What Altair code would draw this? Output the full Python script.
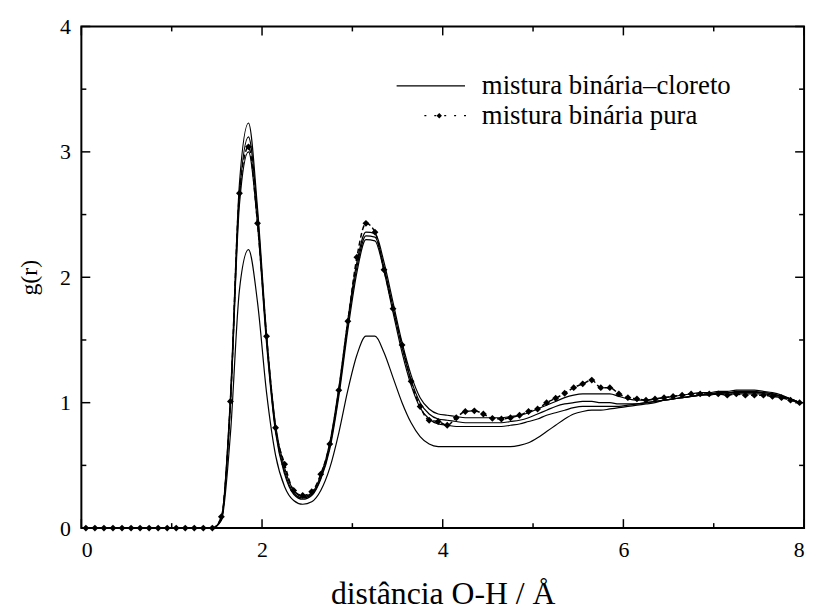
import altair as alt
import pandas as pd

# sampling grid (Å)
R = [0.05, 0.15, 0.25, 0.35, 0.45, 0.55, 0.65, 0.75, 0.85, 0.95,
     1.05, 1.15, 1.25, 1.35, 1.45, 1.55, 1.65, 1.75, 1.85, 1.95,
     2.05, 2.15, 2.25, 2.35, 2.45, 2.55, 2.65, 2.75, 2.85, 2.95,
     3.05, 3.15, 3.25, 3.35, 3.45, 3.55, 3.65, 3.75, 3.85, 3.95,
     4.05, 4.15, 4.25, 4.35, 4.45, 4.55, 4.65, 4.75, 4.85, 4.95,
     5.05, 5.15, 5.25, 5.35, 5.45, 5.55, 5.65, 5.75, 5.85, 5.95,
     6.05, 6.15, 6.25, 6.35, 6.45, 6.55, 6.65, 6.75, 6.85, 6.95,
     7.05, 7.15, 7.25, 7.35, 7.45, 7.55, 7.65, 7.75, 7.85, 7.95]

ZERO15 = [0.0] * 15

# mistura binária pura (markers)
PURA = ZERO15 + [0.09, 1.01, 2.67, 3.04, 2.43,
     1.53, 0.80, 0.51, 0.30, 0.26, 0.29, 0.43, 0.67, 1.10, 1.65,
     2.16, 2.43, 2.36, 2.06, 1.75, 1.46, 1.17, 0.97, 0.86, 0.85,
     0.82, 0.88, 0.93, 0.935, 0.91, 0.875, 0.87, 0.88, 0.90, 0.93,
     0.95, 1.00, 1.035, 1.075, 1.12, 1.15, 1.18, 1.12, 1.12, 1.07,
     1.04, 1.03, 1.02, 1.03, 1.04, 1.05, 1.06, 1.07, 1.07, 1.07,
     1.07, 1.06, 1.07, 1.06, 1.06, 1.06, 1.05, 1.04, 1.02, 1.00]

# mistura binária–cloreto (several curves)
CL_1 = ZERO15 + [0.08, 1.05, 2.75, 3.23, 2.55,
     1.55, 0.82, 0.48, 0.30, 0.25, 0.28, 0.42, 0.68, 1.12, 1.66,
     2.12, 2.36, 2.35, 2.12, 1.80, 1.48, 1.22, 1.04, 0.95, 0.91,
     0.90, 0.89, 0.88, 0.88, 0.88, 0.88, 0.88, 0.89, 0.90, 0.92,
     0.95, 0.98, 1.01, 1.04, 1.06, 1.07, 1.07, 1.07, 1.07, 1.05,
     1.03, 1.02, 1.02, 1.03, 1.04, 1.05, 1.06, 1.07, 1.08, 1.08,
     1.09, 1.09, 1.10, 1.10, 1.10, 1.09, 1.08, 1.06, 1.03, 1.00]

CL_2 = ZERO15 + [0.07, 1.00, 2.65, 3.12, 2.50,
     1.50, 0.78, 0.45, 0.28, 0.24, 0.27, 0.40, 0.65, 1.08, 1.62,
     2.08, 2.33, 2.32, 2.08, 1.76, 1.44, 1.18, 1.00, 0.91, 0.87,
     0.86, 0.85, 0.84, 0.84, 0.84, 0.84, 0.84, 0.85, 0.86, 0.88,
     0.91, 0.94, 0.97, 0.99, 1.00, 1.01, 1.01, 1.00, 1.00, 0.99,
     0.99, 0.99, 1.00, 1.01, 1.02, 1.03, 1.04, 1.05, 1.06, 1.07,
     1.07, 1.08, 1.08, 1.08, 1.08, 1.08, 1.07, 1.05, 1.03, 1.00]

CL_3 = ZERO15 + [0.07, 0.98, 2.58, 3.00, 2.42,
     1.47, 0.76, 0.43, 0.27, 0.23, 0.26, 0.39, 0.63, 1.05, 1.58,
     2.04, 2.30, 2.29, 2.05, 1.72, 1.40, 1.14, 0.96, 0.87, 0.83,
     0.82, 0.81, 0.81, 0.81, 0.81, 0.81, 0.81, 0.82, 0.83, 0.85,
     0.87, 0.90, 0.92, 0.94, 0.96, 0.97, 0.97, 0.97, 0.97, 0.97,
     0.98, 0.99, 1.00, 1.01, 1.02, 1.03, 1.04, 1.05, 1.06, 1.06,
     1.07, 1.07, 1.07, 1.07, 1.07, 1.07, 1.06, 1.05, 1.03, 1.00]

CL_4 = ZERO15 + [0.06, 0.75, 1.90, 2.22, 1.80,
     1.08, 0.58, 0.33, 0.22, 0.19, 0.21, 0.30, 0.48, 0.76, 1.10,
     1.38, 1.53, 1.53, 1.40, 1.20, 1.00, 0.84, 0.73, 0.67, 0.65,
     0.65, 0.65, 0.65, 0.65, 0.65, 0.65, 0.65, 0.65, 0.66, 0.68,
     0.72, 0.77, 0.82, 0.87, 0.91, 0.93, 0.94, 0.94, 0.95, 0.96,
     0.97, 0.98, 0.99, 1.00, 1.02, 1.03, 1.04, 1.05, 1.06, 1.07,
     1.08, 1.08, 1.09, 1.09, 1.09, 1.08, 1.07, 1.05, 1.03, 1.00]

X_MAJOR = [0, 2, 4, 6, 8]
X_MINOR = [1, 3, 5, 7]
Y_MAJOR = [0, 1, 2, 3, 4]
Y_MINOR = [0.5, 1.5, 2.5, 3.5]

LEG_LINE = "mistura binária–cloreto"
LEG_MARK = "mistura binária pura"

W, H = 729, 506
FONT = "Liberation Serif"

rows = []
for name, vals in [("c1", CL_1), ("c2", CL_2), ("c3", CL_3), ("c4", CL_4)]:
    for r, g in zip(R, vals):
        rows.append({"r": r, "g": g, "curve": name})
solid_df = pd.DataFrame(rows)
pura_df = pd.DataFrame({"r": R, "g": PURA})

xs = alt.Scale(domain=[0, 8], nice=False, zero=False)
ys = alt.Scale(domain=[0, 4], nice=False, zero=False)

xaxis = alt.Axis(values=X_MAJOR, format="d", title="distância O-H / Å", grid=False,
                 domain=False, ticks=False, labelPadding=12, labelFontSize=22,
                 titleFontSize=32, labelFont=FONT, titleFont=FONT,
                 titleFontWeight="normal", labelColor="black", titleColor="black",
                 titlePadding=18)
yaxis = alt.Axis(values=Y_MAJOR, format="d", title="g(r)", grid=False, domain=False,
                 ticks=False, labelPadding=11, labelFontSize=22, titleFontSize=24,
                 labelFont=FONT, titleFont=FONT, titleFontWeight="normal",
                 labelColor="black", titleColor="black", titlePadding=18)

solid = alt.Chart(solid_df).mark_line(color="black", strokeWidth=1.2, interpolate="monotone").encode(
    x=alt.X("r:Q", scale=xs, axis=xaxis),
    y=alt.Y("g:Q", scale=ys, axis=yaxis),
    detail="curve:N",
)

pura_line = alt.Chart(pura_df).mark_line(color="black", strokeWidth=1.5, strokeDash=[5, 3],
                                         interpolate="monotone").encode(
    x=alt.X("r:Q", scale=xs), y=alt.Y("g:Q", scale=ys))
pura_pts = alt.Chart(pura_df).mark_point(shape="diamond", filled=True, color="black",
                                         size=48, opacity=1).encode(
    x=alt.X("r:Q", scale=xs), y=alt.Y("g:Q", scale=ys))

# inward ticks
xmaj = pd.DataFrame({"v": X_MAJOR})
xmin = pd.DataFrame({"v": X_MINOR})
ymaj = pd.DataFrame({"v": Y_MAJOR})
ymin = pd.DataFrame({"v": Y_MINOR})

def xticks(df, L):
    b = alt.Chart(df).mark_rule(color="black", strokeWidth=1.5).encode(
        x=alt.X("v:Q", scale=xs), y=alt.value(H), y2=alt.value(H - L))
    t = alt.Chart(df).mark_rule(color="black", strokeWidth=1.5).encode(
        x=alt.X("v:Q", scale=xs), y=alt.value(0), y2=alt.value(L))
    return b + t

def yticks(df, L):
    l = alt.Chart(df).mark_rule(color="black", strokeWidth=1.5).encode(
        y=alt.Y("v:Q", scale=ys), x=alt.value(0), x2=alt.value(L))
    r = alt.Chart(df).mark_rule(color="black", strokeWidth=1.5).encode(
        y=alt.Y("v:Q", scale=ys), x=alt.value(W), x2=alt.value(W - L))
    return l + r

ticks = xticks(xmaj, 9) + xticks(xmin, 5) + yticks(ymaj, 9) + yticks(ymin, 5)

# legend (inside plot, top right)
leg_df = pd.DataFrame({"label": [LEG_LINE, LEG_MARK]})
L1Y, L2Y = 60, 90
leg_line = alt.Chart(leg_df.iloc[[0]]).mark_rule(color="black", strokeWidth=1.2).encode(
    x=alt.value(318), x2=alt.value(387), y=alt.value(L1Y))
leg_dash = alt.Chart(leg_df.iloc[[1]]).mark_rule(color="black", strokeWidth=1.3,
                                                strokeDash=[2, 8]).encode(
    x=alt.value(346), x2=alt.value(390), y=alt.value(L2Y))
leg_pt = alt.Chart(leg_df.iloc[[1]]).mark_point(shape="diamond", filled=True, color="black",
                                               size=30, opacity=1).encode(
    x=alt.value(361), y=alt.value(L2Y))
leg_t1 = alt.Chart(leg_df.iloc[[0]]).mark_text(align="left", baseline="middle", font=FONT,
                                              fontSize=27, color="black").encode(
    x=alt.value(404), y=alt.value(L1Y), text="label:N")
leg_t2 = alt.Chart(leg_df.iloc[[1]]).mark_text(align="left", baseline="middle", font=FONT,
                                              fontSize=27, color="black").encode(
    x=alt.value(404), y=alt.value(L2Y), text="label:N")

chart = alt.layer(
    solid, pura_line, pura_pts, ticks, leg_line, leg_dash, leg_pt, leg_t1, leg_t2
).properties(
    width=W, height=H,
    autosize=alt.AutoSizeParams(type="none"),
    padding={"left": 74, "top": 16, "right": 8, "bottom": 80},
    background="white",
).configure_view(stroke="black", strokeWidth=2)

chart.save("out.html", embed_options={"renderer": "svg", "actions": False})
